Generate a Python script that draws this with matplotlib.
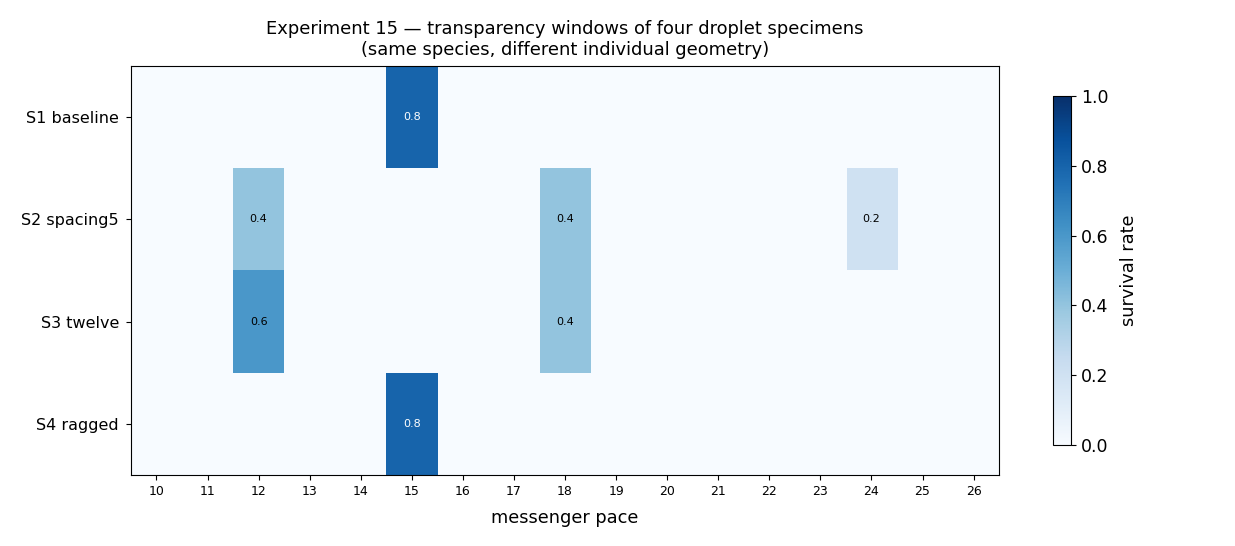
import numpy as np
import matplotlib
matplotlib.use("Agg")
import matplotlib.pyplot as plt

# Data
paces = list(range(10, 27))
specimens = ["S1 baseline", "S2 spacing5", "S3 twelve", "S4 ragged"]
s1 = {15: 0.8}
s2 = {12: 0.4, 18: 0.4, 24: 0.2}
s3 = {12: 0.6, 18: 0.4}
s4 = {15: 0.8}

grid = np.zeros((len(specimens), len(paces)))
for i, row in enumerate([s1, s2, s3, s4]):
    for p, v in row.items():
        grid[i, paces.index(p)] = v

fig = plt.figure(figsize=(12.35, 5.46), dpi=100)
ax = fig.add_axes([0.106, 0.130, 0.703, 0.749])
im = ax.imshow(grid, cmap="Blues", vmin=0, vmax=1, aspect="auto")

# annotate non-zero cells
for i in range(grid.shape[0]):
    for j in range(grid.shape[1]):
        v = grid[i, j]
        if v > 0:
            ax.text(j, i, f"{v:.1f}", ha="center", va="center", fontsize=8,
                    color="white" if v > 0.6 else "black")

ax.set_xticks(range(len(paces)))
ax.set_xticklabels([str(p) for p in paces], fontsize=9)
ax.set_yticks(range(len(specimens)))
ax.set_yticklabels(specimens, fontsize=11.5)
ax.tick_params(axis="y", pad=5)
ax.set_xlabel("messenger pace", fontsize=12.8, labelpad=8)
ax.set_title("Experiment 15 — transparency windows of four droplet specimens\n"
             "(same species, different individual geometry)", fontsize=12.9, pad=8)

cax = fig.add_axes([0.853, 0.185, 0.0146, 0.639])
cb = fig.colorbar(im, cax=cax)
cb.set_ticks([0.0, 0.2, 0.4, 0.6, 0.8, 1.0])
cb.ax.tick_params(labelsize=12.5)
cb.set_label("survival rate", fontsize=12.8, labelpad=8)

fig.savefig("out.png", dpi=100)
